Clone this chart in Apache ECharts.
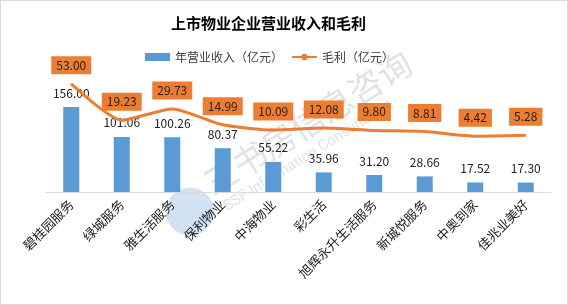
<!DOCTYPE html>
<html>
<head>
<meta charset="utf-8">
<script src="https://cdn.jsdelivr.net/npm/echarts@6/dist/echarts.min.js"></script>
<style>
  html, body { margin: 0; padding: 0; background: #fff; }
  #chart { width: 568px; height: 305px; box-sizing: border-box; border: 1px solid #d9d9d9; }
</style>
</head>
<body>
<div id="chart"></div>
<script>
const categories = ['碧桂园服务', '绿城服务', '雅生活服务', '保利物业', '中海物业', '彩生活', '旭辉永升生活服务', '新城悦服务', '中奥到家', '佳兆业美好']
const revenue = [156.00, 101.06, 100.26, 80.37, 55.22, 35.96, 31.20, 28.66, 17.52, 17.30]
const grossProfit = [53.00, 19.23, 29.73, 14.99, 10.09, 12.08, 9.80, 8.81, 4.42, 5.28]

const font = "'Noto Sans CJK SC', sans-serif"
const chart = echarts.init(document.getElementById('chart'))

chart.setOption({
  textStyle: { fontFamily: font },
  animation: false,
  title: {
    text: '上市物业企业营业收入和毛利',
    left: 165,
    top: 10,
    textStyle: { fontSize: 15, fontWeight: 'bold', color: '#000', fontFamily: font }
  },
  legend: {
    left: 139,
    top: 45,
    itemGap: 8,
    textStyle: { fontSize: 12, color: '#404040' },
    data: [
      { name: '年营业收入（亿元）', icon: 'rect', itemStyle: { color: '#5B9BD5' } },
      { name: '毛利（亿元）' }
    ],
    itemWidth: 25,
    itemHeight: 8
  },
  grid: { left: 45, right: 16, top: 82, bottom: 112 },
  xAxis: {
    type: 'category',
    data: categories,
    axisTick: { show: false },
    axisLine: { lineStyle: { color: '#d9d9d9' } },
    axisLabel: { rotate: 45, fontSize: 13, color: '#222', margin: 10, interval: 0 }
  },
  yAxis: [
    { type: 'value', min: 0, max: 200, show: false },
    { type: 'value', min: -47.4, max: 53.8, show: false }
  ],
  series: [
    {
      name: '年营业收入（亿元）',
      type: 'bar',
      barWidth: 16,
      data: revenue,
      itemStyle: { color: '#5B9BD5' },
      label: {
        show: true,
        position: 'top',
        distance: 8,
        fontSize: 12,
        color: '#222',
        formatter: (p) => p.value.toFixed(2)
      }
    },
    {
      name: '毛利（亿元）',
      type: 'line',
      yAxisIndex: 1,
      smooth: 0.2,
      symbol: 'circle',
      symbolSize: 1,
      showSymbol: true,
      legendIcon: 'path://M0,0 L26,0 L26,3 L0,3 Z',
      data: grossProfit,
      lineStyle: { color: '#ED7D31', width: 3 },
      itemStyle: { color: '#ED7D31' },
      label: {
        show: true,
        position: 'top',
        distance: 9,
        fontSize: 12,
        color: '#222',
        backgroundColor: '#ED7D31',
        padding: [3, 5],
        formatter: (p) => p.value.toFixed(2)
      },
      z: 3
    }
  ],
  graphic: [
    {
      type: 'group',
      x: 280,
      y: 130,
      rotation: Math.PI * 32 / 180,
      z: 10,
      children: [
        { type: 'circle', shape: { cx: -120, cy: 20, r: 24 }, style: { fill: 'rgba(91,155,213,0.28)' } },
        { type: 'text', x: -92, y: -10, style: { text: '三书房信息咨询', fontSize: 34, fill: 'rgba(150,160,170,0.3)', fontFamily: font } },
        { type: 'text', x: -88, y: 28, style: { text: 'SSF Information Consultation', fontSize: 15, fill: 'rgba(150,160,170,0.3)', fontFamily: 'Roboto, sans-serif' } }
      ]
    }
  ]
})
</script>
</body>
</html>
